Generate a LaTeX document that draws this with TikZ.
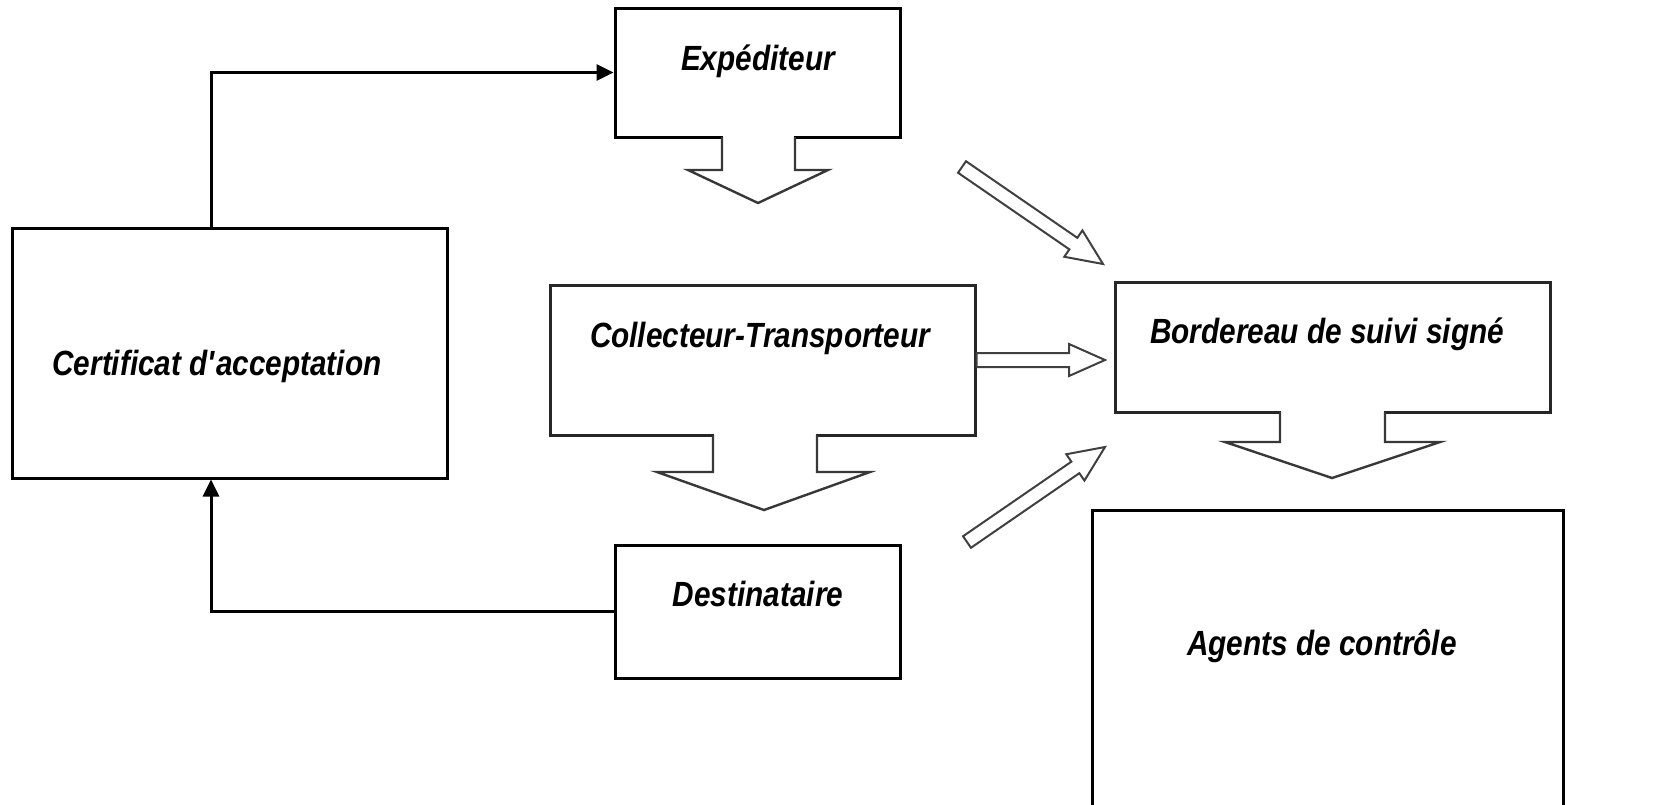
\documentclass[tikz,border=0pt]{standalone}
\usepackage{fontspec}
\setmainfont{Liberation Sans}[FakeStretch=0.85]
\usetikzlibrary{calc,arrows.meta}
\tikzset{
  box/.style={draw=black, line width=3pt, fill=white, inner sep=0pt},
  lbl/.style={font=\fontsize{35}{40}\selectfont\bfseries\itshape, anchor=base, inner sep=0pt},
  conn/.style={draw=black, line width=3pt, -{Triangle[length=17pt,width=16pt]}},
  blk/.style={draw=black!78, line width=2.4pt, line join=miter},
  hol/.style={draw=black!75, line width=2pt, fill=white, line join=miter}
}
\newcommand\hollowarr[2]{%
  \coordinate (hb) at ($(#2)!36pt!(#1)$);
  \draw[hol] ($(#1)!7pt!90:(#2)$) -- ($(hb)!7pt!-90:(#1)$) -- ($(hb)!16pt!-90:(#1)$) -- (#2)
     -- ($(hb)!16pt!90:(#1)$) -- ($(hb)!7pt!90:(#1)$) -- ($(#1)!7pt!-90:(#2)$) -- cycle;}
\begin{document}
\begin{tikzpicture}[x=1pt,y=-1pt]
\useasboundingbox (0,0) rectangle (1668,804);
\clip (0,0) rectangle (1668,804);
% boxes
\node[box, minimum width=285pt, minimum height=129pt] (exp) at (757.5,72.5) {};
\node[box, minimum width=435pt, minimum height=250pt] (cert) at (229.5,353) {};
\node[box, draw=black!85, minimum width=425pt, minimum height=150pt] (coll) at (762.5,360) {};
\node[box, minimum width=285pt, minimum height=133pt] (dest) at (757.5,611.5) {};
\node[box, draw=black!85, minimum width=435pt, minimum height=130pt] (bord) at (1332.5,347) {};
\node[box, minimum width=471pt, minimum height=320pt] (agent) at (1327.5,670) {};
% texts
\node[lbl] (texp) at (758,70) {Expéditeur};
\node[lbl] (tcert) at (217,375) {Certificat d\textquotesingle acceptation};
\node[lbl] (tcoll) at (760,347) {Collecteur-Transporteur};
\node[lbl] (tdest) at (758,606) {Destinataire};
\node[lbl] (tbord) at (1327,343) {Bordereau de suivi signé};
\node[lbl] (tagent) at (1322,655) {Agents de contrôle};
% block arrows below boxes
\fill[white] (723,134) rectangle (794,140);
\draw[blk] (722,137) -- (722,170) -- (688,170) -- (758,203) -- (828,170) -- (795,170) -- (795,137);
\fill[white] (714,432) rectangle (816,438);
\draw[blk] (713,435) -- (713,472) -- (657,472) -- (764,510) -- (870,472) -- (817,472) -- (817,435);
\fill[white] (1281,409) rectangle (1384,415);
\draw[blk] (1280,412) -- (1280,442) -- (1225,442) -- (1332,478) -- (1440,442) -- (1385,442) -- (1385,412);
% line connectors
\coordinate (cx) at (211,0);
\draw[conn] (cert.north -| cx) |- (exp.west);
\draw[conn] (dest.west) -| (cert.south -| cx);
% hollow arrows
\coordinate (h1s) at (coll.east);
\coordinate (h1e) at (1105,360);
\hollowarr{h1s}{h1e}
\coordinate (d1s) at (962,167);
\coordinate (d1e) at (1103,264);
\hollowarr{d1s}{d1e}
\coordinate (d2s) at (967,542);
\coordinate (d2e) at (1105,447);
\hollowarr{d2s}{d2e}
\end{tikzpicture}
\end{document}
